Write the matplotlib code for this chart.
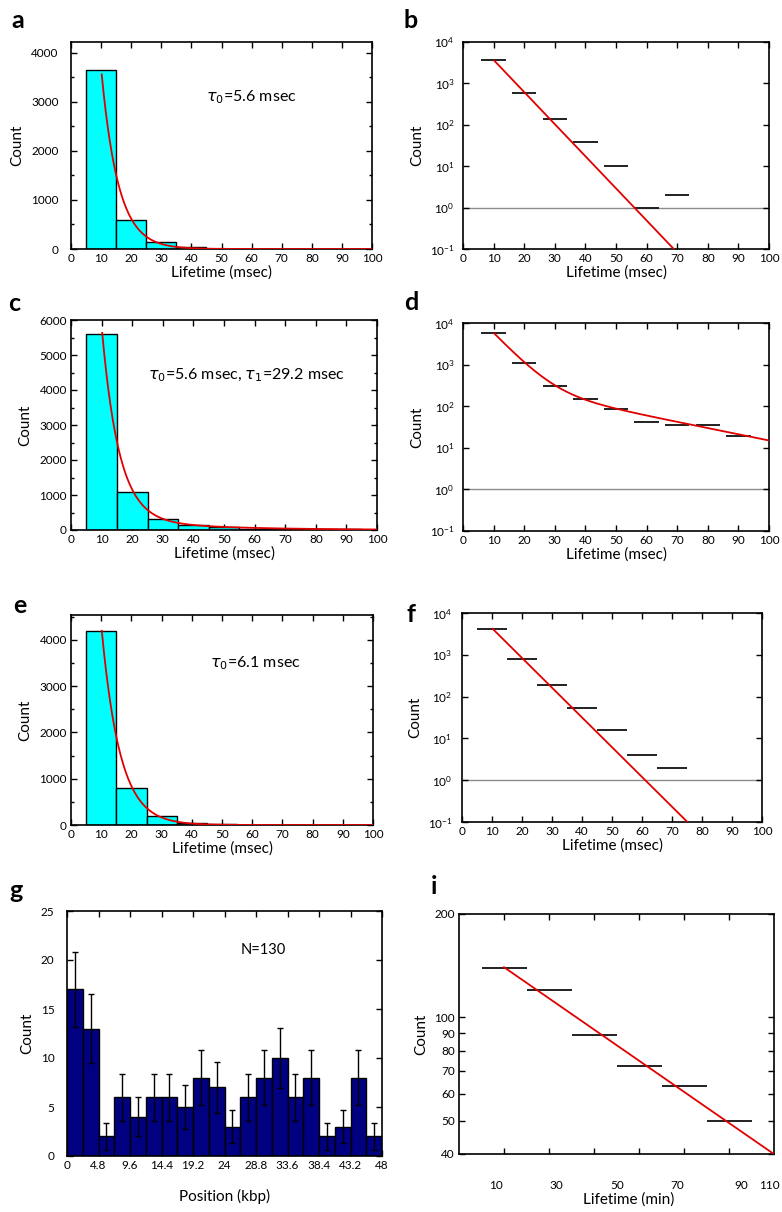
import numpy as np
import matplotlib
matplotlib.use("Agg")
import matplotlib.pyplot as plt
from matplotlib.ticker import (MultipleLocator, FixedLocator, FixedFormatter,
                               NullLocator, LogLocator, NullFormatter)

plt.rcParams['font.family'] = ['Lato', 'DejaVu Sans']
plt.rcParams['mathtext.fontset'] = 'dejavusans'

# lifetime histograms (bin centres in msec)
life_bins = [10, 20, 30, 40, 50, 60, 70, 80, 90]
counts_a = [3650, 600, 140, 38, 10, 1, 2, 0, 0]
counts_c = [5600, 1100, 310, 145, 88, 41, 36, 35, 19]
counts_e = [4200, 790, 190, 52, 16, 4, 2, 0, 0]

# exponential fits: amplitudes and time constants (msec)
fit_a_amp = [22000]
fit_a_tau = [5.6]
fit_c_amp = [32800, 461]
fit_c_tau = [5.6, 29.2]
fit_e_amp = [22350]
fit_e_tau = [6.1]

# position histogram (kbp)
pos_counts = [17, 13, 2, 6, 4, 6, 6, 5, 8, 7, 3, 6, 8, 10, 6, 8, 2, 3, 8, 2]
pos_errs = [3.8, 3.5, 1.4, 2.4, 2.0, 2.4, 2.4, 2.2, 2.8, 2.6,
            1.7, 2.4, 2.8, 3.1, 2.4, 2.8, 1.4, 1.7, 2.8, 1.4]
pos_bin_width = 2.4

# lifetime in minutes
min_bins = [15, 30, 45, 60, 75, 90]
min_counts = [139, 120, 89, 72, 63, 50]
fit_i_amp = [172.5]
fit_i_tau = [71.8]
i_tick_labels = ['10', '30', '50', '70', '90', '110']
i_label_pos = [12.3, 32.3, 52.7, 72.7, 94.0, 103.3]

RED = '#e00000'
TICK_FS = 8.5
LABEL_FS = 11
W, H = 782, 1212
fig = plt.figure(figsize=(W / 100, H / 100), dpi=100)


def px_axes(l, t, r, b):
    return fig.add_axes([l / W, 1 - b / H, (r - l) / W, (b - t) / H])


def expfit(x, amps, taus):
    return sum(a * np.exp(-x / t) for a, t in zip(amps, taus))


def style(ax, ypad):
    ax.tick_params(which='both', direction='in', top=True, right=True,
                   labelsize=TICK_FS, width=1)
    ax.tick_params(which='major', length=4)
    ax.tick_params(which='minor', length=2.5)
    ax.tick_params(axis='y', pad=ypad)
    ax.tick_params(axis='x', pad=3)
    for s in ax.spines.values():
        s.set_linewidth(1.2)


def hist_panel(ax, counts, amps, taus, ymax, ypad):
    ax.bar(life_bins, counts, width=10, color='#00ffff', edgecolor='black',
           linewidth=1, zorder=2)
    xf = np.linspace(10.2, 100, 400)
    ax.plot(xf, expfit(xf, amps, taus), color=RED, lw=1.3, zorder=3)
    ax.set_xlim(0, 100)
    ax.set_ylim(0, ymax)
    ax.xaxis.set_major_locator(MultipleLocator(10))
    ax.yaxis.set_major_locator(MultipleLocator(1000))
    ax.yaxis.set_minor_locator(MultipleLocator(500))
    style(ax, ypad)
    ax.set_xlabel('Lifetime (msec)', fontsize=LABEL_FS, labelpad=1)
    ax.set_ylabel('Count', fontsize=LABEL_FS, labelpad=5)


def log_panel(ax, counts, amps, taus, seg_w, ypad):
    c = np.array(counts, dtype=float)
    x = np.array(life_bins, dtype=float)
    m = c > 0
    ax.axhline(1, color='#8c8c8c', lw=1, zorder=1)
    ax.hlines(c[m], x[m] - seg_w / 2, x[m] + seg_w / 2, color='#202020', lw=1.4, zorder=2)
    xf = np.linspace(10.2, 100, 400)
    ax.plot(xf, expfit(xf, amps, taus), color=RED, lw=1.3, zorder=3)
    ax.set_yscale('log')
    ax.set_xlim(0, 100)
    ax.set_ylim(0.1, 1e4)
    ax.xaxis.set_major_locator(MultipleLocator(10))
    ax.yaxis.set_major_locator(LogLocator(base=10, numticks=10))
    ax.yaxis.set_minor_locator(NullLocator())
    ax.yaxis.set_minor_formatter(NullFormatter())
    style(ax, ypad)
    ax.set_xlabel('Lifetime (msec)', fontsize=LABEL_FS, labelpad=1)
    ax.set_ylabel('Count', fontsize=LABEL_FS, labelpad=4)


# a
ax = px_axes(71, 42, 372, 249)
hist_panel(ax, counts_a, fit_a_amp, fit_a_tau, 4220, 9)
ax.text(45, 3100, r'$\tau_0$=5.6 msec', fontsize=11.5, va='center')

# b
ax = px_axes(463, 42, 769, 249)
log_panel(ax, counts_a, fit_a_amp, fit_a_tau, 8, 6)

# c
ax = px_axes(71, 320, 377, 530)
hist_panel(ax, counts_c, fit_c_amp, fit_c_tau, 6000, 3)
ax.text(25.3, 4430, r'$\tau_0$=5.6 msec, $\tau_1$=29.2 msec', fontsize=11.5, va='center')

# d
ax = px_axes(463, 323, 769, 531)
log_panel(ax, counts_c, fit_c_amp, fit_c_tau, 8, 6)

# e
ax = px_axes(71, 615, 373, 825)
hist_panel(ax, counts_e, fit_e_amp, fit_e_tau, 4540, 3)
ax.text(46, 3495, r'$\tau_0$=6.1 msec', fontsize=11.5, va='center')

# f
ax = px_axes(462, 613, 762, 822)
log_panel(ax, counts_e, fit_e_amp, fit_e_tau, 10, 7)

# g
ax = px_axes(67, 911, 382, 1156)
xc = np.arange(len(pos_counts)) * pos_bin_width + pos_bin_width / 2
ax.bar(xc, pos_counts, width=pos_bin_width, color='#000080', edgecolor='black',
       linewidth=1, zorder=2)
ax.errorbar(xc, pos_counts, yerr=pos_errs, fmt='none', ecolor='black',
            elinewidth=1, capsize=2, capthick=1, zorder=3)
ax.set_xlim(0, 48)
ax.set_ylim(0, 25)
gt = np.arange(0, 48.01, 4.8)
ax.set_xticks(gt, [f'{v:g}' for v in np.round(gt, 1)])
ax.yaxis.set_major_locator(MultipleLocator(5))
style(ax, 9)
ax.text(29.9, 21, 'N=130', fontsize=10.5, ha='center', va='center')
ax.set_xlabel('Position (kbp)', fontsize=LABEL_FS, labelpad=13)
ax.set_ylabel('Count', fontsize=LABEL_FS, labelpad=5)

# i
ax = px_axes(459, 914, 774, 1154)
xm = np.array(min_bins, dtype=float)
ax.hlines(min_counts, xm - 7.5, xm + 7.5, color='#202020', lw=1.4, zorder=2)
xf = np.linspace(15, 105, 200)
ax.plot(xf, expfit(xf, fit_i_amp, fit_i_tau), color=RED, lw=1.3, zorder=3)
ax.set_yscale('log')
ax.set_xlim(0, 105)
ax.set_ylim(40, 200)
yt = [40, 50, 60, 70, 80, 90, 100, 200]
ax.yaxis.set_major_locator(FixedLocator(yt))
ax.yaxis.set_major_formatter(FixedFormatter([str(v) for v in yt]))
ax.yaxis.set_minor_locator(NullLocator())
ax.set_xticks(min_bins, [''] * len(min_bins))
ax.set_xticks(i_label_pos, i_tick_labels, minor=True)
style(ax, 3)
ax.tick_params(axis='x', which='minor', length=0, top=False, pad=19)
ax.set_xlabel('Lifetime (min)', fontsize=LABEL_FS, labelpad=1)
ax.xaxis.label.set_x(0.54)
ax.set_ylabel('Count', fontsize=LABEL_FS, labelpad=4)

# panel letters
for lab, x, y in [('a', 18, 20), ('b', 411, 21), ('c', 14, 304), ('d', 411, 302),
                  ('e', 20, 605), ('f', 411, 614), ('g', 16, 891), ('i', 434, 886)]:
    fig.text(x / W, 1 - y / H, lab, fontsize=18, fontweight='bold',
             ha='center', va='center')

fig.savefig('out.png', dpi=100)
